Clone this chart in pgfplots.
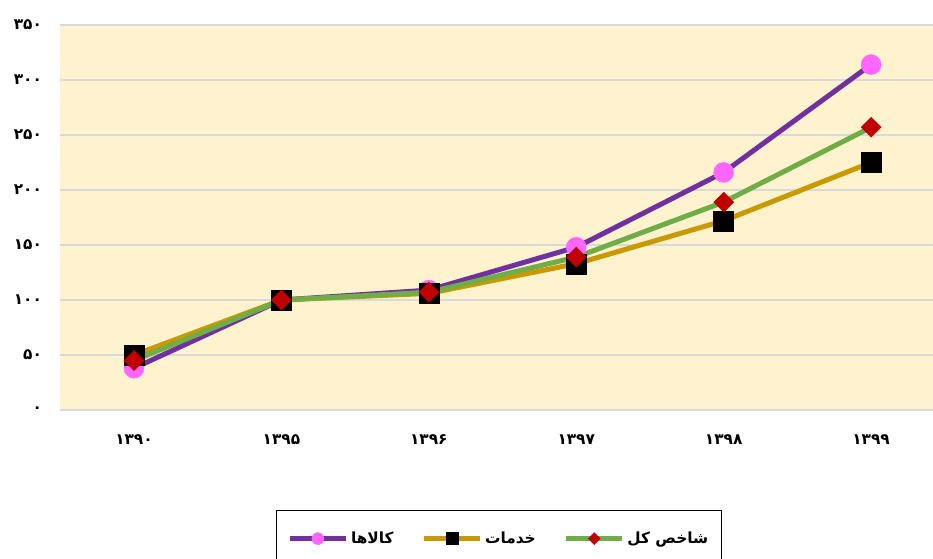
\documentclass[border=0pt]{standalone}
\usepackage{pgfplots}
\pgfplotsset{compat=1.18}
\usepackage{fontspec}
\TeXXeTstate=1
\newfontfamily\fa[Script=Arabic]{DejaVu Sans}
\definecolor{bgc}{RGB}{255,242,206}
\definecolor{gridc}{RGB}{217,217,217}
\definecolor{cgoods}{RGB}{112,48,160}
\definecolor{cpink}{RGB}{255,102,255}
\definecolor{cserv}{RGB}{201,154,0}
\definecolor{ctot}{RGB}{112,173,71}
\definecolor{cred}{RGB}{192,0,0}
\begin{document}
\begin{tikzpicture}
\clip (0,0) rectangle (699.75pt,-418.5pt);
\begin{axis}[
  at={(45pt,-307.5pt)}, anchor=south west,
  scale only axis, width=654.75pt, height=288.75pt,
  xmin=-0.502, xmax=5.42, ymin=0, ymax=350,
  axis background/.style={fill=bgc},
  axis line style={draw=none},
  major tick style={draw=none},
  ymajorgrids, major grid style={draw=gridc, line width=1.5pt},
  xtick={0,1,2,3,4,5},
  xticklabels={۱۳۹۰,۱۳۹۵,۱۳۹۶,۱۳۹۷,۱۳۹۸,۱۳۹۹},
  ytick={0,50,100,150,200,250,300,350},
  yticklabels={۰,۵۰,۱۰۰,۱۵۰,۲۰۰,۲۵۰,۳۰۰,۳۵۰},
  tick label style={font=\fa\bfseries\fontsize{11.5}{13}\selectfont},
  xticklabel style={yshift=-15pt},
  yticklabel style={xshift=-10pt},
  clip=false,
  legend columns=3,
  legend style={at={(0.503,-0.2597)}, anchor=north, draw=black, line width=0.75pt,
    font=\fa\bfseries\fontsize{11.5}{13}\selectfont, inner xsep=8pt, inner ysep=14pt,
    /tikz/every even column/.append style={column sep=19pt}},
  legend image code/.code={
    \draw[#1, mark repeat=2, mark phase=2, every mark/.append style={scale=0.6}]
      plot coordinates {(0pt,0pt) (21pt,0pt) (42pt,0pt)};},
]
\addplot[color=cgoods, line width=3.75pt, mark=*, mark size=7.5pt,
  mark options={fill=cpink, draw=cpink, line width=0.3pt}]
  coordinates {(0,38) (1,100) (2,109) (3,148) (4,216) (5,314)};
\addlegendentry{\beginR کالاها\endR}
\addplot[color=cserv, line width=3.75pt, mark=square*, mark size=7.5pt,
  mark options={fill=black, draw=black, line width=0.3pt}]
  coordinates {(0,50) (1,100) (2,106) (3,133) (4,172) (5,225)};
\addlegendentry{\beginR خدمات\endR}
\addplot[color=ctot, line width=3.75pt, mark=square*, mark size=5.3pt,
  mark options={fill=cred, draw=cred, line width=0.3pt, rotate=45}]
  coordinates {(0,45) (1,100) (2,107) (3,139) (4,189) (5,257)};
\addlegendentry{\beginR شاخص کل\endR}
\end{axis}
\end{tikzpicture}
\end{document}
